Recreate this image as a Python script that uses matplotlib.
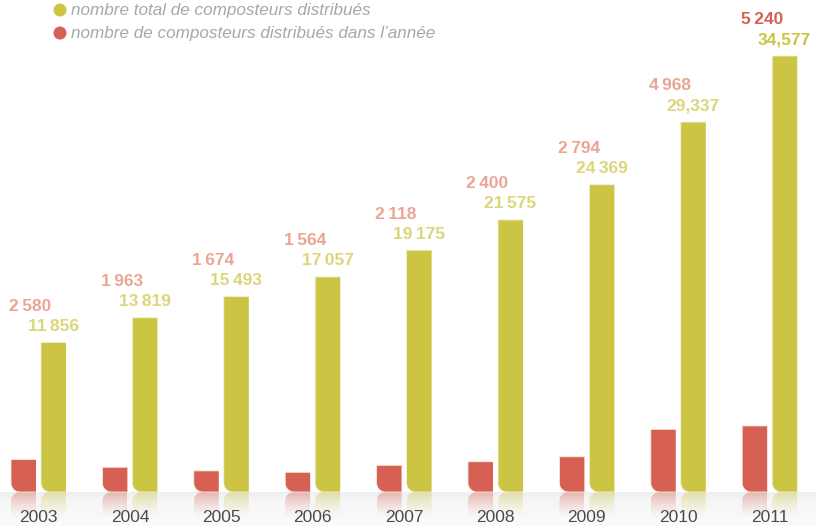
import numpy as np
import matplotlib.pyplot as plt
from matplotlib.path import Path
from matplotlib.patches import PathPatch, Ellipse
from matplotlib.colors import to_rgb

years = ['2003', '2004', '2005', '2006', '2007', '2008', '2009', '2010', '2011']
annual = [2580, 1963, 1674, 1564, 2118, 2400, 2794, 4968, 5240]
total = [11856, 13819, 15493, 17057, 19175, 21575, 24369, 29337, 34577]
annual_labels = ['2\u2009580', '1\u2009963', '1\u2009674', '1\u2009564', '2\u2009118',
                 '2\u2009400', '2\u2009794', '4\u2009968', '5\u2009240']
total_labels = ['11\u2009856', '13\u2009819', '15\u2009493', '17\u2009057', '19\u2009175',
                '21\u2009575', '24\u2009369', '29,337', '34,577']
legend_labels = ['nombre total de composteurs distribués',
                 'nombre de composteurs distribués dans l\u2019année']

RED = '#D66053'
YELLOW = '#CCC443'
RED_LIGHT = '#EBA594'
YELLOW_LIGHT = '#DCD57A'

W, H = 816, 526
fig = plt.figure(figsize=(W / 100, H / 100), dpi=100)
ax = fig.add_axes([0, 0, 1, 1])

# pixel <-> data mapping
px_x = 91.4          # px per category
px_y = 436 / 34577   # px per unit
x0_px, base_px = 38.5, 492
ax.set_xlim(-x0_px / px_x, (W - x0_px) / px_x)
ax.set_ylim(-(H - base_px) / px_y, base_px / px_y)
ax.axis('off')

dx = 1 / px_x
dy = 1 / px_y
bw = 25 * dx
off = 15 * dx
rx, ry = 9 * dx, 9 * dy


def bar_path(xc, h, sign=1):
    # bar with rounded bottom-left corner (sign=-1 gives the mirrored reflection)
    left, right = xc - bw / 2, xc + bw / 2
    t = np.linspace(np.pi, 1.5 * np.pi, 12)
    arc_x = left + rx + rx * np.cos(t)
    arc_y = sign * (ry + ry * np.sin(t))
    xs = [right, left] + list(arc_x) + [right]
    ys = [sign * h, sign * h] + list(arc_y) + [0]
    return Path(np.column_stack([xs, ys]))


# floor gradient below the baseline
grad = np.concatenate([np.linspace(0.94, 0.965, 10), np.linspace(0.965, 0.985, 24)])
floor = np.repeat(grad[:, None], 2, axis=1)
floor = np.dstack([floor, floor, floor])
ax.imshow(floor, extent=[ax.get_xlim()[0], ax.get_xlim()[1], -(H - base_px) * dy, 0],
          aspect='auto', zorder=0, interpolation='bilinear')

refl_h = 26 * dy
alpha = np.linspace(0.5, 0.0, 50)[:, None] ** 1.3
for i in range(len(years)):
    for val, xc, col in [(annual[i], i - off, RED), (total[i], i + off, YELLOW)]:
        ax.add_patch(PathPatch(bar_path(xc, val), facecolor=col,
                               edgecolor='#F2EFD8', lw=0.6, zorder=3))
        rgba = np.zeros((50, 2, 4))
        rgba[..., :3] = to_rgb(col)
        rgba[..., 3] = alpha
        im = ax.imshow(rgba, extent=[xc - bw / 2, xc + bw / 2, -refl_h, 0],
                       aspect='auto', zorder=2, interpolation='bilinear')
        clip = PathPatch(bar_path(xc, refl_h, -1), transform=ax.transData,
                         facecolor='none', edgecolor='none')
        ax.add_patch(clip)
        im.set_clip_path(clip)

    last = i == len(years) - 1
    ax.annotate(annual_labels[i], (i - 8 * dx, total[i]), xytext=(0, 26),
                textcoords='offset points', ha='center', va='center',
                fontsize=12.5, fontweight='bold', family='Liberation Sans',
                color=RED if last else RED_LIGHT)
    ax.annotate(total_labels[i], (i + off, total[i]), xytext=(0, 11.5),
                textcoords='offset points', ha='center', va='center',
                fontsize=12.5, fontweight='bold', family='Liberation Sans',
                color=YELLOW if last else YELLOW_LIGHT)
    ax.text(i, -26 * dy, years[i], ha='center', va='center', fontsize=12.5,
            color='#4A4A4A', family='Liberation Sans')

# legend
xl = ax.get_xlim()[0]
for j, (lab, col) in enumerate(zip(legend_labels, [YELLOW, RED])):
    ypx = 10 + 23 * j
    yc = (base_px - ypx) * dy
    ax.add_patch(Ellipse((xl + 60 * dx, yc), 13 * dx, 13 * dy, facecolor=col,
                         edgecolor='none', zorder=4))
    ax.text(xl + 71 * dx, yc, lab, ha='left', va='center', fontsize=12.3,
            style='italic', color='#A8A8A8', family='Liberation Sans')

fig.savefig('out.png', dpi=100)
